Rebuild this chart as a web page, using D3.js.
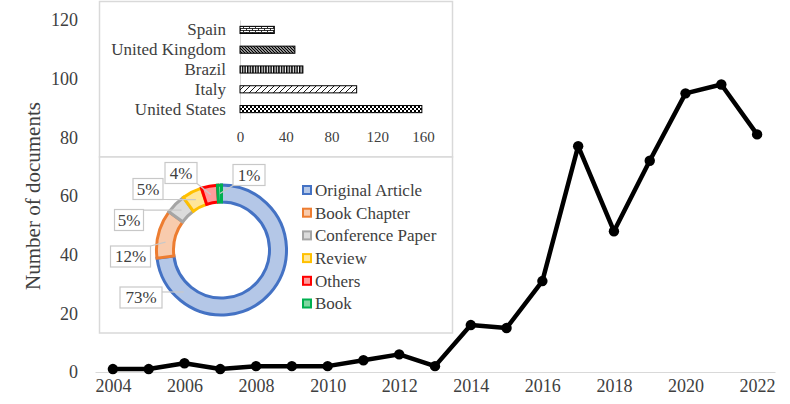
<!DOCTYPE html>
<html>
<head>
<meta charset="utf-8">
<script src="https://cdn.jsdelivr.net/npm/d3@7"></script>
<style>
  body { margin: 0; background: #fff; }
  svg { display: block; font-family: "Liberation Serif", "Times New Roman", serif; }
</style>
</head>
<body>
<svg id="chart" width="790" height="404"></svg>
<script>
// Main series: documents per year
const years = [2004, 2005, 2006, 2007, 2008, 2009, 2010, 2011, 2012, 2013,
  2014, 2015, 2016, 2017, 2018, 2019, 2020, 2021, 2022]
const documents = [1, 1, 3, 1, 2, 2, 2, 4, 6, 2, 16, 15, 31, 77, 48, 72, 95, 98, 81]
const yTicks = [0, 20, 40, 60, 80, 100, 120]
const xTickYears = [2004, 2006, 2008, 2010, 2012, 2014, 2016, 2018, 2020, 2022]

// Inset 1: top countries
const countries = ['Spain', 'United Kingdom', 'Brazil', 'Italy', 'United States']
const countryDocs = [30, 48, 55, 102, 159]
const countryTicks = [0, 40, 80, 120, 160]

// Inset 2: document types
const docTypes = ['Original Article', 'Book Chapter', 'Conference Paper', 'Review', 'Others', 'Book']
const docShares = [73, 12, 5, 5, 4, 1]

const textColor = '#404040'
const gridColor = '#d9d9d9'

const svg = d3.select('#chart')

// ---- hatch patterns for the country bars
const defs = svg.append('defs')
function pattern(id, w, h, draw) {
  const p = defs.append('pattern').attr('id', id)
    .attr('patternUnits', 'userSpaceOnUse').attr('width', w).attr('height', h)
  p.append('rect').attr('width', w).attr('height', h).attr('fill', '#fff')
  draw(p)
}
pattern('brick', 6, 4, p => {
  p.append('path').attr('d', 'M0,0.5H6M0,2.5H6M0.5,0.5V2.5M3.5,2.5V4.5')
    .attr('stroke', '#000').attr('stroke-width', 0.8).attr('fill', 'none')
})
pattern('darkDiag', 3, 3, p => {
  p.append('path').attr('d', 'M-1,-1L4,4M-1,2L1,4M2,-1L4,1')
    .attr('stroke', '#000').attr('stroke-width', 1.3)
})
pattern('vert', 2.6, 4, p => {
  p.append('rect').attr('x', 0).attr('width', 1.5).attr('height', 4).attr('fill', '#000')
})
pattern('wideUp', 6, 6, p => {
  p.append('path').attr('d', 'M0,6L6,0M-1,1L1,-1M5,7L7,5')
    .attr('stroke', '#000').attr('stroke-width', 0.9)
})
pattern('checker', 4, 4, p => {
  p.append('rect').attr('width', 2).attr('height', 2).attr('fill', '#000')
  p.append('rect').attr('x', 2).attr('y', 2).attr('width', 2).attr('height', 2).attr('fill', '#000')
})
const countryFill = ['url(#brick)', 'url(#darkDiag)', 'url(#vert)', 'url(#wideUp)', 'url(#checker)']

// ---- main line chart
const x = d3.scalePoint().domain(years).range([95, 775]).padding(0.5)
const y = d3.scaleLinear().domain([0, 120]).range([372, 20])

const xAxis = svg.append('g')
  .attr('transform', 'translate(0,372)')
  .call(d3.axisBottom(x).tickValues(xTickYears).tickSize(0).tickPadding(7))
xAxis.select('.domain').attr('stroke', gridColor).attr('stroke-width', 1.2)
xAxis.selectAll('text').attr('fill', textColor).style('font-size', '18px')
  .style('font-family', '"Liberation Serif", serif')

const yAxis = svg.append('g')
  .attr('transform', 'translate(84,0)')
  .call(d3.axisLeft(y).tickValues(yTicks).tickSize(0).tickPadding(6))
yAxis.select('.domain').remove()
yAxis.selectAll('text').attr('fill', textColor).style('font-size', '18px')
  .style('font-family', '"Liberation Serif", serif')

svg.append('text')
  .attr('transform', 'translate(40,196) rotate(-90)')
  .attr('text-anchor', 'middle')
  .attr('fill', textColor)
  .style('font-size', '21px')
  .text('Number of documents')

const line = d3.line().x((d, i) => x(years[i])).y(d => y(d))
svg.append('path')
  .datum(documents)
  .attr('d', line)
  .attr('fill', 'none')
  .attr('stroke', '#000')
  .attr('stroke-width', 4.5)
  .attr('stroke-linejoin', 'round')

svg.append('g').selectAll('circle')
  .data(documents)
  .join('circle')
  .attr('cx', (d, i) => x(years[i]))
  .attr('cy', d => y(d))
  .attr('r', 5.2)
  .attr('fill', '#000')

// ---- inset panels
svg.append('rect').attr('x', 99.5).attr('y', 1.5).attr('width', 353).attr('height', 155.5)
  .attr('fill', '#fff').attr('stroke', gridColor).attr('stroke-width', 1.5)
svg.append('rect').attr('x', 99.5).attr('y', 157).attr('width', 353).attr('height', 176)
  .attr('fill', '#fff').attr('stroke', gridColor).attr('stroke-width', 1.5)

// country bars
const xb = d3.scaleLinear().domain([0, 160]).range([240, 423])
const yb = d3.scaleBand().domain(countries).range([20, 119]).paddingInner(0.64).paddingOuter(0.32)

const ybAxis = svg.append('g')
  .attr('transform', 'translate(240,0)')
  .call(d3.axisLeft(yb).tickSize(0).tickPadding(14))
ybAxis.select('.domain').attr('stroke', gridColor).attr('stroke-width', 1)
ybAxis.selectAll('text').attr('fill', textColor).style('font-size', '17px')
  .style('font-family', '"Liberation Serif", serif')

const xbAxis = svg.append('g')
  .attr('transform', 'translate(0,121)')
  .call(d3.axisBottom(xb).tickValues(countryTicks).tickSize(0).tickPadding(10))
xbAxis.select('.domain').remove()
xbAxis.selectAll('text').attr('fill', textColor).style('font-size', '15px')
  .style('font-family', '"Liberation Serif", serif')

svg.append('g').selectAll('rect')
  .data(countryDocs)
  .join('rect')
  .attr('x', xb(0))
  .attr('y', (d, i) => yb(countries[i]))
  .attr('width', d => xb(d) - xb(0))
  .attr('height', yb.bandwidth())
  .attr('fill', (d, i) => countryFill[i])
  .attr('stroke', '#000')
  .attr('stroke-width', 1)

// document type donut
const typeStroke = ['#4472c4', '#ed7d31', '#a5a5a5', '#ffc000', '#ff0000', '#00b050']
const typeFill = ['#b4c7e7', '#f8cbad', '#dbdbdb', '#ffe699', '#ff9b9b', '#7fd7a0']
const cx = 221.5, cy = 250, rOut = 65, rIn = 48

const pie = d3.pie().sort(null)
const arcs = pie(docShares)
const arc = d3.arc().innerRadius(rIn).outerRadius(rOut)

const donut = svg.append('g').attr('transform', `translate(${cx},${cy})`)
donut.selectAll('path')
  .data(arcs)
  .join('path')
  .attr('d', arc)
  .attr('fill', (d, i) => typeFill[i])
  .attr('stroke', (d, i) => typeStroke[i])
  .attr('stroke-width', 3)
  .attr('stroke-linejoin', 'miter')

// label boxes (manual placement like the original), relative to donut centre
const labelLayout = [
  { dx: -80.5, dy: 47.5, w: 42, ang: 222 },
  { dx: -91, dy: 6.5, w: 40, ang: 278 },
  { dx: -92.5, dy: -30, w: 29, ang: 315 },
  { dx: -73.5, dy: -61, w: 30, ang: 333 },
  { dx: -40.5, dy: -77, w: 32, ang: 349 },
  { dx: 27.5, dy: -75, w: 32, ang: 358.5 }
]
const rMid = (rIn + rOut) / 2
const labels = donut.append('g')
arcs.forEach((a, i) => {
  const L = labelLayout[i]
  const t = L.ang * Math.PI / 180
  const ex = rMid * Math.sin(t), ey = -rMid * Math.cos(t)
  // leader line from nearest box edge point to the slice
  const bx = Math.max(L.dx - L.w / 2, Math.min(L.dx + L.w / 2, ex))
  const by = Math.max(L.dy - 10.5, Math.min(L.dy + 10.5, ey))
  labels.append('line')
    .attr('x1', bx).attr('y1', by).attr('x2', ex).attr('y2', ey)
    .attr('stroke', '#c8c8c8').attr('stroke-width', 1.2)
  labels.append('rect')
    .attr('x', L.dx - L.w / 2).attr('y', L.dy - 10.5)
    .attr('width', L.w).attr('height', 21)
    .attr('fill', '#fff').attr('stroke', '#c8c8c8').attr('stroke-width', 1.2)
  labels.append('text')
    .attr('x', L.dx).attr('y', L.dy)
    .attr('dy', '0.35em')
    .attr('text-anchor', 'middle')
    .attr('fill', textColor)
    .style('font-size', '17px')
    .text(a.data + '%')
})

// legend
const legend = svg.append('g').attr('transform', 'translate(302,190)')
const row = legend.selectAll('g')
  .data(docTypes)
  .join('g')
  .attr('transform', (d, i) => `translate(0,${i * 22.7})`)
row.append('rect')
  .attr('x', 1).attr('y', -4).attr('width', 8).attr('height', 8)
  .attr('fill', (d, i) => typeFill[i])
  .attr('stroke', (d, i) => typeStroke[i])
  .attr('stroke-width', 2)
row.append('text')
  .attr('x', 13).attr('dy', '0.35em')
  .attr('fill', textColor)
  .style('font-size', '17px')
  .text(d => d)
</script>
</body>
</html>
